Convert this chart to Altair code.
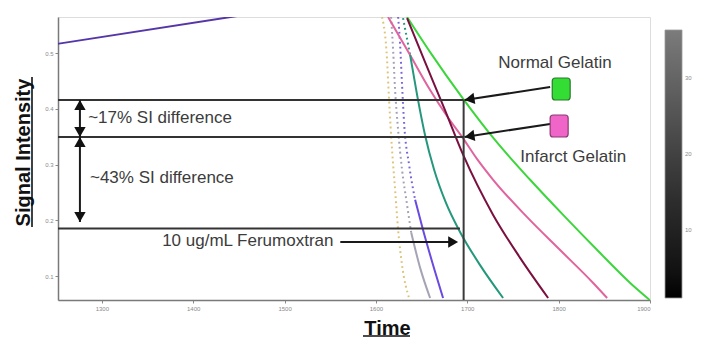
import altair as alt
import pandas as pd

# ---------------- data ----------------
T_DOMAIN = [1252, 1900]
SI_DOMAIN = [0.0574, 0.565]
x_ticks = [1300, 1400, 1500, 1600, 1700, 1800, 1900]
y_ticks = [0.1, 0.2, 0.3, 0.4, 0.5]

top_t = [1252, 1449, 1480]
top_si = [0.517, 0.567, 0.575]

green_t = [1634.1, 1659.3, 1696.5, 1730.5, 1768.8, 1804.9, 1842.2, 1878.3, 1900.0]
green_si = [0.565, 0.502, 0.416, 0.344, 0.273, 0.210, 0.147, 0.088, 0.057]

pink_t = [1613.3, 1636.3, 1659.3, 1677.9, 1694.3, 1710.8, 1728.3, 1765.5, 1801.6, 1837.8, 1853.1]
pink_si = [0.565, 0.500, 0.434, 0.387, 0.350, 0.310, 0.273, 0.206, 0.147, 0.088, 0.061]

maroon_t = [1634.1, 1653.8, 1674.6, 1695.4, 1728.3, 1757.8, 1788.5]
maroon_si = [0.563, 0.484, 0.402, 0.318, 0.210, 0.133, 0.061]

teal_t = [1629.7, 1637.4, 1645.1, 1653.8, 1663.7, 1676.8, 1692.2, 1714.0, 1739.2]
teal_si = [0.563, 0.497, 0.425, 0.353, 0.291, 0.231, 0.179, 0.120, 0.061]

violet_t = [1624.3, 1626.5, 1628.6, 1631.0, 1636.3, 1642.9, 1651.6, 1661.5, 1673.5]
violet_si = [0.565, 0.515, 0.443, 0.371, 0.300, 0.237, 0.183, 0.126, 0.061]

gray_t = [1616.6, 1618.8, 1621.0, 1624.3, 1628.6, 1634.1, 1638.5, 1648.4, 1659.3]
gray_si = [0.565, 0.506, 0.434, 0.362, 0.291, 0.228, 0.179, 0.115, 0.061]

yellow_t = [1606.7, 1612.2, 1614.4, 1617.7, 1621.0, 1624.3, 1628.6, 1636.3]
yellow_si = [0.565, 0.488, 0.416, 0.326, 0.255, 0.183, 0.120, 0.061]

# reference lines
hline_si = [0.4161, 0.3498, 0.1856]
hline_t0 = [1252, 1252, 1252]
hline_t1 = [1696.0, 1696.0, 1692.0]
vline_t = [1696.0]
vline_si0 = [0.0574]
vline_si1 = [0.4161]

# arrow shafts (t, si) -> (t2, si2)
shaft_t = [1276, 1276, 1561, 1790.7, 1790.7]
shaft_si = [0.4161, 0.3498, 0.1614, 0.4394, 0.3731]
shaft_t2 = [1276, 1276, 1685, 1697, 1697]
shaft_si2 = [0.3498, 0.1973, 0.1614, 0.4161, 0.3498]

# arrow tips
up_t = [1276, 1276]
up_si = [0.4161, 0.3498]
down_t = [1276, 1276]
down_si = [0.3498, 0.1973]
right_t = [1690]
right_si = [0.1614]
left_t = [1697, 1697]
left_si = [0.4161, 0.3498]

# legend squares
sq_t0 = [1793.0, 1790.7]
sq_t1 = [1812.6, 1810.4]
sq_si0 = [0.4161, 0.3498]
sq_si1 = [0.4556, 0.3892]
sq_fill = ["#33dd33", "#f066c8"]
sq_stroke = ["#2a7a2a", "#8a3a70"]

# texts
left_text = ["~17% SI difference", "~43% SI difference", "10 ug/mL Ferumoxtran"]
left_text_t = [1285, 1287, 1366]
left_text_si = [0.3838, 0.2762, 0.1632]
center_text = ["Normal Gelatin", "Infarct Gelatin"]
center_text_t = [1796, 1816]
center_text_si = [0.4825, 0.314]

# colour bar
cbar_values = [1.0, 36.3]
cbar_labels = [10, 20, 30]

FONT = "Liberation Sans"
TXT = "#3c3c3c"

# ---------------- encodings ----------------
X_AXIS = alt.Axis(values=x_ticks, format="d", labelFontSize=6, labelColor="#8a8a8a",
                  tickColor="#8a8a8a", tickSize=3, labelPadding=2, domainColor="#7a7a7a",
                  domainWidth=1.5, grid=False, title="Time", titleFontSize=20,
                  titleFontWeight="bold", titleColor="#111111", titleX=329, titleY=34,
                  titleAlign="center", titleBaseline="alphabetic")
Y_AXIS = alt.Axis(values=y_ticks, format=".1f", labelFontSize=6, labelColor="#8a8a8a",
                  tickColor="#8a8a8a", tickSize=3, labelPadding=2, domainColor="#7a7a7a",
                  domainWidth=1.5, grid=False, title="Signal Intensity", titleFontSize=20,
                  titleFontWeight="bold", titleColor="#111111", titleAngle=270,
                  titleX=-29, titleY=135, titleAlign="center", titleBaseline="alphabetic")


def X(f="t"):
    return alt.X(f"{f}:Q", scale=alt.Scale(domain=T_DOMAIN, nice=False, zero=False), axis=X_AXIS)


def Y(f="si"):
    return alt.Y(f"{f}:Q", scale=alt.Scale(domain=SI_DOMAIN, nice=False, zero=False), axis=Y_AXIS)


def curve_rows(name, ts, sis, color, idx):
    return [{"series": name, "t": ts[i], "si": sis[i], "color": color, "i": i} for i in idx]


solid_rows = []
solid_rows += curve_rows("top", top_t, top_si, "#5536a8", range(len(top_t)))
solid_rows += curve_rows("green", green_t, green_si, "#3cd63c", range(len(green_t)))
solid_rows += curve_rows("pink", pink_t, pink_si, "#e0649e", range(len(pink_t)))
solid_rows += curve_rows("maroon", maroon_t, maroon_si, "#7a1040", range(len(maroon_t)))
solid_rows += curve_rows("teal", teal_t, teal_si, "#24977c", range(1, len(teal_t)))
solid_rows += curve_rows("violet", violet_t, violet_si, "#6a4ae0", range(5, len(violet_t)))
solid_rows += curve_rows("gray", gray_t, gray_si, "#a4a4b4", range(6, len(gray_t)))
solid_df = pd.DataFrame(solid_rows)

dot_rows = []
dot_rows += curve_rows("teal", teal_t, teal_si, "#24977c", range(0, 2))
dot_rows += curve_rows("violet", violet_t, violet_si, "#7a64d8", range(0, 6))
dot_rows += curve_rows("gray", gray_t, gray_si, "#a0a0b4", range(0, 7))
dot_rows += curve_rows("yellow", yellow_t, yellow_si, "#dcc47a", range(len(yellow_t)))
dot_df = pd.DataFrame(dot_rows)

solid = alt.Chart(solid_df).mark_line(strokeWidth=2, clip=True, interpolate="monotone").encode(
    x=X(), y=Y(), stroke=alt.Stroke("color:N", scale=None), detail="series:N", order="i:Q")
dotted = alt.Chart(dot_df).mark_line(strokeWidth=2, strokeDash=[1.8, 3.2], clip=True,
                                     interpolate="monotone").encode(
    x=X(), y=Y(), stroke=alt.Stroke("color:N", scale=None), detail="series:N", order="i:Q")

hlines = alt.Chart(pd.DataFrame({"t": hline_t0, "t2": hline_t1, "si": hline_si})).mark_rule(
    color="#333333", strokeWidth=2).encode(x=X(), x2="t2:Q", y=Y())
vline = alt.Chart(pd.DataFrame({"t": vline_t, "si": vline_si0, "si2": vline_si1})).mark_rule(
    color="#3a3a3a", strokeWidth=2).encode(x=X(), y=Y(), y2="si2:Q")

shafts = alt.Chart(pd.DataFrame({"t": shaft_t, "si": shaft_si, "t2": shaft_t2, "si2": shaft_si2})).mark_rule(
    color="#1a1a1a", strokeWidth=2).encode(x=X(), y=Y(), x2="t2:Q", y2="si2:Q")

HS = 130
HO = 5
heads_up = alt.Chart(pd.DataFrame({"t": up_t, "si": up_si})).mark_point(
    shape="triangle-up", filled=True, size=HS, opacity=1, color="#111111", yOffset=HO).encode(x=X(), y=Y())
heads_down = alt.Chart(pd.DataFrame({"t": down_t, "si": down_si})).mark_point(
    shape="triangle-down", filled=True, size=HS, opacity=1, color="#111111", yOffset=-HO).encode(x=X(), y=Y())
heads_right = alt.Chart(pd.DataFrame({"t": right_t, "si": right_si})).mark_point(
    shape="triangle-right", filled=True, size=HS, opacity=1, color="#111111", xOffset=-HO).encode(x=X(), y=Y())
heads_left = alt.Chart(pd.DataFrame({"t": left_t, "si": left_si})).mark_point(
    shape="triangle-left", filled=True, size=HS, opacity=1, color="#111111", angle=351,
    xOffset=HO, yOffset=-0.8).encode(x=X(), y=Y())

squares = alt.Chart(pd.DataFrame({"t": sq_t0, "t2": sq_t1, "si": sq_si0, "si2": sq_si1,
                                  "fill": sq_fill, "stroke": sq_stroke})).mark_rect(
    cornerRadius=3, strokeWidth=1.2).encode(
    x=X(), x2="t2:Q", y=Y(), y2="si2:Q",
    fill=alt.Fill("fill:N", scale=None), stroke=alt.Stroke("stroke:N", scale=None))

txt_left = alt.Chart(pd.DataFrame({"t": left_text_t, "si": left_text_si, "label": left_text})).mark_text(
    align="left", baseline="middle", fontSize=17, font=FONT, color=TXT).encode(x=X(), y=Y(), text="label:N")
txt_center = alt.Chart(pd.DataFrame({"t": center_text_t, "si": center_text_si, "label": center_text})).mark_text(
    align="center", baseline="middle", fontSize=17, font=FONT, color=TXT).encode(x=X(), y=Y(), text="label:N")

# colour bar (gradient legend driven by a hidden layer)
cbar = alt.Chart(pd.DataFrame({"t": [1300, 1300], "si": [0.1, 0.1], "v": cbar_values})).mark_square(
    opacity=0).encode(
    x=X(), y=Y(),
    fill=alt.Fill("v:Q", scale=alt.Scale(domain=cbar_values, range=["#000000", "#7c7c7c"]),
                  legend=alt.Legend(orient="none", legendX=607, legendY=13, direction="vertical",
                                    gradientLength=268, gradientThickness=17, values=cbar_labels,
                                    title=None, labelFontSize=6, labelColor="#8a8a8a", labelOffset=3,
                                    gradientStrokeColor="#9a9a9a", gradientStrokeWidth=0.8)))

# underlines for the bold axis titles
ul_y = alt.Chart(pd.DataFrame({"k": [0]})).mark_rule(color="#111111", strokeWidth=1.6).encode(
    x=alt.value(-26), y=alt.value(60), y2=alt.value(210))
ul_x = alt.Chart(pd.DataFrame({"k": [0]})).mark_rule(color="#111111", strokeWidth=1.6).encode(
    x=alt.value(305), x2=alt.value(352), y=alt.value(319))

chart = alt.layer(
    cbar, dotted, solid, hlines, vline, shafts, heads_up, heads_down, heads_right, heads_left,
    squares, txt_left, txt_center, ul_y, ul_x
).properties(
    width=592, height=283,
    padding={"left": 58, "top": 17, "right": 52, "bottom": 39},
    autosize=alt.AutoSizeParams(type="none"),
    background="white",
).configure_view(stroke=None).configure(font=FONT)

chart.save("out.html", embed_options={"renderer": "svg", "actions": False})
